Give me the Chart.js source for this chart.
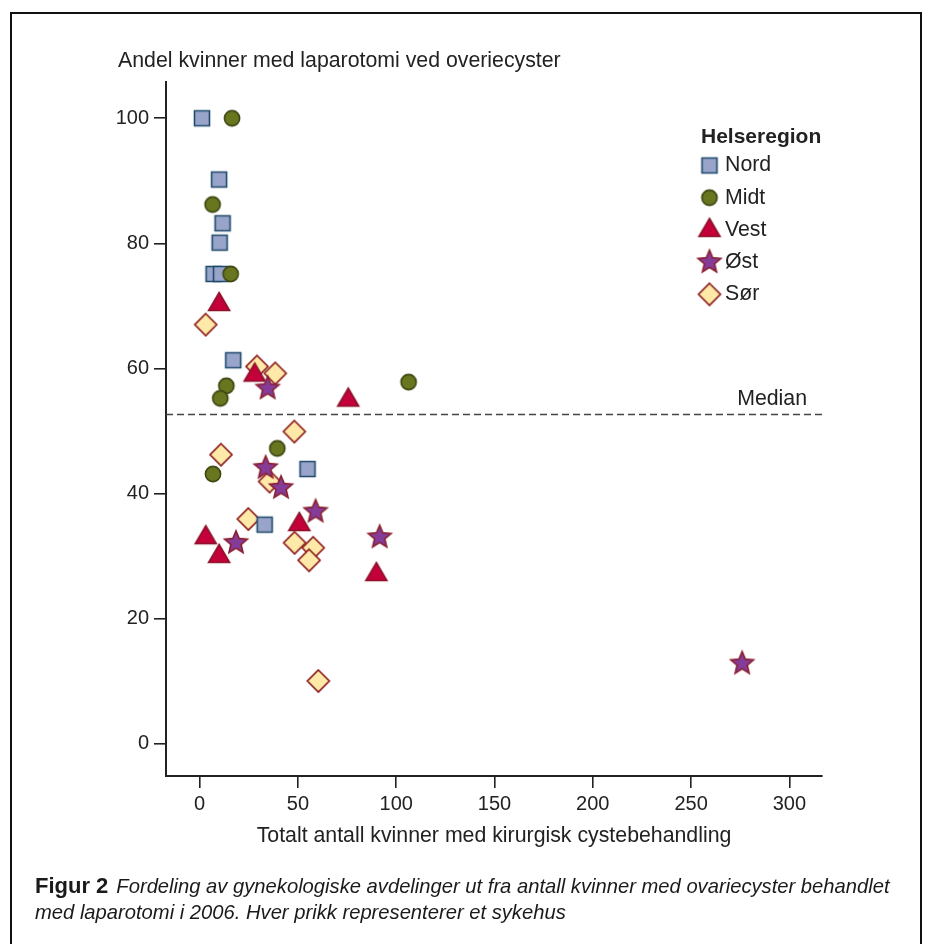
<!DOCTYPE html>
<html lang="no">
<head>
<meta charset="utf-8">
<title>Figur 2</title>
<script src="https://cdn.jsdelivr.net/npm/chart.js@4/dist/chart.umd.min.js"></script>
<style>
  html, body { margin: 0; padding: 0; background: #fff; }
  #fig { position: relative; width: 925px; height: 944px; overflow: hidden; }
  #frame {
    position: absolute; left: 10px; top: 12px; width: 912px; height: 960px;
    border: 2px solid #111; box-sizing: border-box;
  }
  #chart { position: absolute; left: 0; top: 0; }
  #caption {
    position: absolute; left: 35px; top: 873px; width: 885px;
    font-family: "Liberation Sans", Arial, sans-serif; font-size: 20.2px; line-height: 26px;
    color: #1a1a1a;
  }
  #caption b { font-size: 22px; font-style: normal; margin-right: 8px; }
  #caption i { font-style: italic; }
</style>
</head>
<body>
<div id="fig">
  <div id="frame"></div>
  <canvas id="chart" width="925" height="944"></canvas>
  <div id="caption"><b>Figur 2</b><i>Fordeling av gynekologiske avdelinger ut fra antall kvinner med ovariecyster behandlet<br>med laparotomi i 2006. Hver prikk representerer et sykehus</i></div>
</div>
<script>
// ── 데이터: 헬세 지역별 병원 (x = 수술 건수, y = 개복술 비율 %) ──
const nordX = [1.2, 9.9, 11.7, 10.2, 7.1, 10.9, 17.1, 54.9, 33.1];
const nordY = [100, 90.2, 83.2, 80.1, 75.1, 75.1, 61.3, 43.9, 35.0];

const midtX = [16.5, 6.6, 15.8, 13.6, 10.5, 39.5, 6.8, 106.3];
const midtY = [100, 86.2, 75.1, 57.2, 55.2, 47.2, 43.1, 57.8];

const vestX = [9.9, 28.0, 75.6, 50.7, 3.1, 9.9, 89.9];
const vestY = [70.3, 59.0, 55.0, 35.1, 33.0, 30.0, 27.1];

const ostX = [34.6, 33.6, 41.4, 59.0, 18.5, 91.6, 276];
const ostY = [56.8, 44.1, 40.9, 37.1, 32.1, 33.0, 12.8];

const sorX = [3.1, 29.2, 38.5, 48.2, 10.9, 35.6, 24.8, 48.3, 57.8, 55.7, 60.4];
const sorY = [67.0, 60.3, 59.2, 49.9, 46.2, 41.9, 35.9, 32.1, 31.3, 29.3, 10.0];

const regionNames = ["Nord", "Midt", "Vest", "Øst", "Sør"];
const xTickValues = [0, 50, 100, 150, 200, 250, 300];
const yTickValues = [0, 20, 40, 60, 80, 100];
const medianValue = 52.7;

(function () {
  "use strict";

  const FONT = '"Liberation Sans", Arial, sans-serif';
  const INK = "#222";
  const LABEL_SIZE = 21.3;

  // ── 마커 그리기 ─────────────────────────────────────────
  function tracePath(g, style, cx, cy) {
    g.beginPath();
    if (style === "square") {
      g.rect(cx - 7.5, cy - 7.5, 15, 15);
    } else if (style === "circle") {
      g.arc(cx, cy, 7.6, 0, Math.PI * 2);
    } else if (style === "triangle") {
      g.moveTo(cx, cy - 11.5);
      g.lineTo(cx + 10.5, cy + 6.5);
      g.lineTo(cx - 10.5, cy + 6.5);
      g.closePath();
    } else if (style === "diamond") {
      g.moveTo(cx, cy - 11);
      g.lineTo(cx + 11, cy);
      g.lineTo(cx, cy + 11);
      g.lineTo(cx - 11, cy);
      g.closePath();
    } else if (style === "star") {
      const R = 12, r = 5.4;
      for (let i = 0; i < 10; i++) {
        const a = -Math.PI / 2 + i * Math.PI / 5;
        const rad = i % 2 === 0 ? R : r;
        const px = cx + Math.cos(a) * rad;
        const py = cy + Math.sin(a) * rad;
        if (i === 0) g.moveTo(px, py); else g.lineTo(px, py);
      }
      g.closePath();
    }
  }

  function makeMarker(style, fill, stroke) {
    const c = document.createElement("canvas");
    c.width = 30;
    c.height = 30;
    const g = c.getContext("2d");
    tracePath(g, style, 15, 15);
    g.fillStyle = fill;
    g.fill();
    g.lineWidth = 1.6;
    g.lineJoin = "miter";
    g.strokeStyle = stroke;
    g.stroke();
    return c;
  }

  const markers = [
    makeMarker("square", "#98a4c9", "#1f4a6c"),
    makeMarker("circle", "#68761f", "#3d4612"),
    makeMarker("triangle", "#c4003b", "#8c1229"),
    makeMarker("star", "#843c98", "#8b1e2e"),
    makeMarker("diamond", "#ffe9a8", "#8b1a1a"),
  ];

  function toPoints(xs, ys) {
    return xs.map(function (x, i) { return { x: x, y: ys[i] }; });
  }

  const seriesData = [
    toPoints(nordX, nordY),
    toPoints(midtX, midtY),
    toPoints(vestX, vestY),
    toPoints(ostX, ostY),
    toPoints(sorX, sorY),
  ];
  // 아래에서 위로: Sør, Nord, Midt, Vest, Øst
  const drawOrder = [4, 3, 2, 1, 5];

  // ── 주석 플러그인: 중앙값 선, y축 제목, 범례 ───────────────
  const figureExtras = {
    id: "figureExtras",
    beforeDatasetsDraw: function (chart) {
      const ctx = chart.ctx;
      const area = chart.chartArea;
      const y = Math.round(chart.scales.y.getPixelForValue(medianValue)) + 0.5;
      ctx.save();
      ctx.strokeStyle = "#444";
      ctx.lineWidth = 1.5;
      ctx.setLineDash([7, 4]);
      ctx.beginPath();
      ctx.moveTo(area.left, y);
      ctx.lineTo(area.right, y);
      ctx.stroke();
      ctx.setLineDash([]);
      ctx.fillStyle = INK;
      ctx.font = LABEL_SIZE + "px " + FONT;
      ctx.textAlign = "right";
      ctx.textBaseline = "middle";
      ctx.fillText("Median", 807, y - 15);
      ctx.restore();
    },
    afterDraw: function (chart) {
      const ctx = chart.ctx;
      ctx.save();
      ctx.fillStyle = INK;
      ctx.textBaseline = "middle";
      ctx.textAlign = "left";
      ctx.font = LABEL_SIZE + "px " + FONT;
      ctx.fillText("Andel kvinner med laparotomi ved overiecyster", 118, 61);

      ctx.font = "bold 21px " + FONT;
      ctx.fillText("Helseregion", 701, 137);
      ctx.font = LABEL_SIZE + "px " + FONT;
      regionNames.forEach(function (name, i) {
        const rowY = 165.5 + i * 32.2;
        const m = markers[i];
        ctx.drawImage(m, 709.5 - m.width / 2, rowY - m.height / 2);
        ctx.fillText(name, 725, rowY);
      });
      ctx.restore();
    },
  };

  // ── 산점도 ─────────────────────────────────────────────
  function initChart() {
    const canvas = document.getElementById("chart");
    const axisCommon = {
      type: "linear",
      border: { display: true, color: INK, width: 2 },
      grid: { drawOnChartArea: false, drawTicks: true, tickLength: 12, color: INK, lineWidth: 1.6 },
      ticks: { color: INK, font: { family: FONT, size: 20 }, includeBounds: false },
    };

    new Chart(canvas, {
      type: "scatter",
      data: {
        datasets: regionNames.map(function (name, i) {
          return {
            label: name,
            data: seriesData[i],
            pointStyle: markers[i],
            pointRadius: 12,
            pointHoverRadius: 12,
            order: drawOrder[i],
          };
        }),
      },
      options: {
        responsive: false,
        animation: false,
        layout: { padding: { left: 0, right: 103, top: 82, bottom: 88 } },
        plugins: { legend: { display: false }, tooltip: { enabled: false } },
        scales: {
          x: Object.assign({}, axisCommon, {
            min: -17.1,
            max: 316.6,
            ticks: Object.assign({}, axisCommon.ticks, { padding: 4, maxRotation: 0 }),
            afterBuildTicks: function (s) { s.ticks = xTickValues.map(function (v) { return { value: v }; }); },
            afterFit: function (s) { s.height = 80; },
            title: {
              display: true,
              text: "Totalt antall kvinner med kirurgisk cystebehandling",
              color: INK,
              font: { family: FONT, size: LABEL_SIZE },
              padding: { top: 0, bottom: 7 },
            },
          }),
          y: Object.assign({}, axisCommon, {
            min: -5.2,
            max: 105.8,
            ticks: Object.assign({}, axisCommon.ticks, { padding: 5 }),
            afterBuildTicks: function (s) { s.ticks = yTickValues.map(function (v) { return { value: v }; }); },
            afterFit: function (s) { s.width = 166; },
          }),
        },
      },
      plugins: [figureExtras],
    });
  }

  document.addEventListener("DOMContentLoaded", initChart);
})();
</script>
</body>
</html>
